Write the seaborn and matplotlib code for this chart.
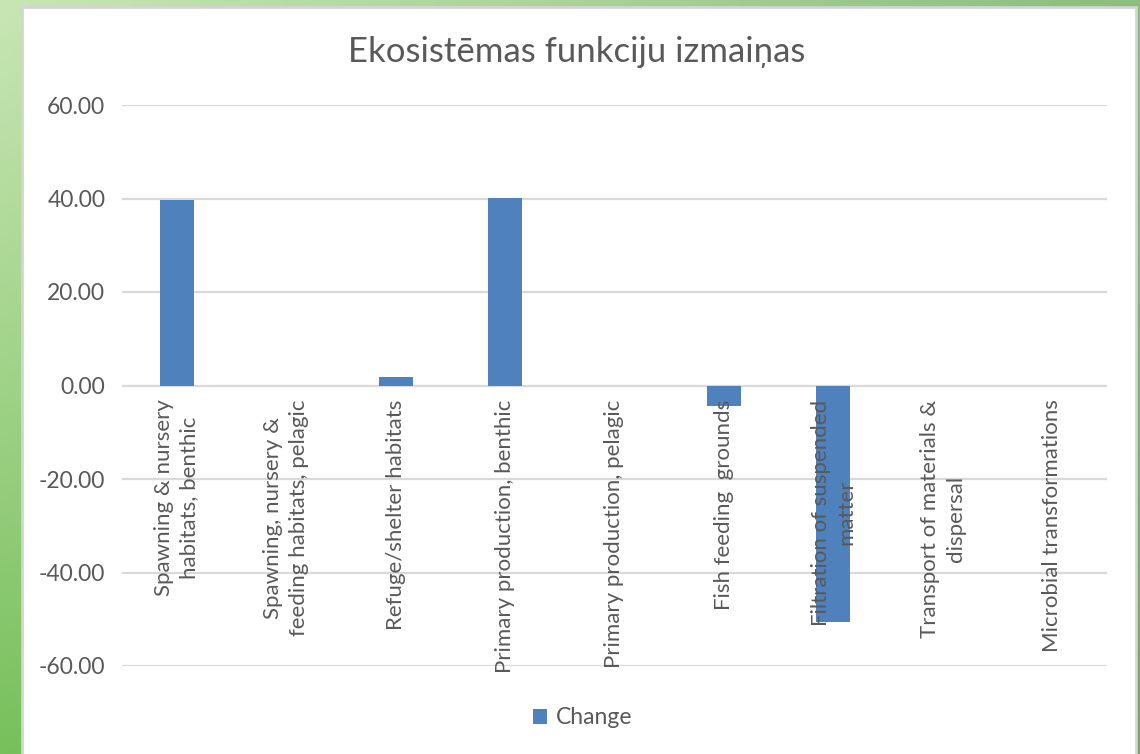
import numpy as np
import pandas as pd
import matplotlib
matplotlib.use("Agg")
import matplotlib.pyplot as plt
from matplotlib.patches import Rectangle, Patch
import seaborn as sns

# Ecosystem function change values
categories = [
    "Spawning & nursery habitats, benthic",
    "Spawning, nursery & feeding habitats, pelagic",
    "Refuge/shelter habitats",
    "Primary production, benthic",
    "Primary production, pelagic",
    "Fish feeding  grounds",
    "Filtration of suspended matter",
    "Transport of materials & dispersal",
    "Microbial transformations",
]
tick_labels = [
    "Spawning & nursery\nhabitats, benthic",
    "Spawning, nursery &\nfeeding habitats, pelagic",
    "Refuge/shelter habitats",
    "Primary production, benthic",
    "Primary production, pelagic",
    "Fish feeding  grounds",
    "Filtration of suspended\nmatter",
    "Transport of materials &\ndispersal",
    "Microbial transformations",
]
change = [39.6, 0.0, 1.8, 40.2, 0.0, -4.3, -50.6, 0.0, 0.0]
series_name = "Change"
y_ticks = [-60, -40, -20, 0, 20, 40, 60]
title = "Ekosistēmas funkciju izmaiņas"

df = pd.DataFrame({"Function": categories, "Value": change, "Series": series_name})

sns.set_theme(style="white")
plt.rcParams["font.family"] = ["Lato", "DejaVu Sans"]
text_color = "#595959"
grid_color = "#d9d9d9"
bar_color = "#4f81bd"

W, H = 1140, 754
fig = plt.figure(figsize=(W / 100, H / 100), dpi=100)

# Green gradient backdrop
bg = fig.add_axes([0, 0, 1, 1], zorder=-10)
yy, xx = np.mgrid[0:1:200j, 0:1:300j]
c_tl = np.array([200, 230, 180]) / 255
c_tr = np.array([140, 190, 125]) / 255
c_bl = np.array([120, 192, 92]) / 255
c_br = np.array([110, 170, 90]) / 255
img = ((1 - xx)[..., None] * (1 - yy)[..., None] * c_tl
       + xx[..., None] * (1 - yy)[..., None] * c_tr
       + (1 - xx)[..., None] * yy[..., None] * c_bl
       + xx[..., None] * yy[..., None] * c_br)
bg.imshow(img, aspect="auto", extent=[0, 1, 1, 0])
bg.set_xlim(0, 1)
bg.set_ylim(1, 0)
bg.axis("off")

# White chart panel
px0, py0, px1 = 22, 7, 1136
bg.add_patch(Rectangle((px0 / W, py0 / H), (px1 - px0) / W, 1.2,
                       facecolor="white", edgecolor="#d4d4d4", linewidth=2))

ax = fig.add_axes([122 / W, 1 - 666 / H, (1107 - 122) / W, (666 - 105) / H])
ax.set_facecolor("none")

sns.barplot(data=df, x="Function", y="Value", hue="Series",
            palette=[bar_color], width=0.31, dodge=False, ax=ax,
            saturation=1, legend=False, linewidth=0, zorder=2)

# Category labels sit on the zero line
ax.spines["bottom"].set_position(("data", 0))
for s in ax.spines.values():
    s.set_visible(False)

ax.set_ylim(-60, 60)
ax.set_yticks(y_ticks)
ax.set_yticklabels([f"{v:.2f}" for v in y_ticks], color=text_color, fontsize=16.5)
ax.set_xticks(range(len(categories)))
ax.set_xticklabels(tick_labels, rotation=90, ha="center", va="top",
                   multialignment="center", color=text_color, fontsize=16)
for lbl in ax.get_xticklabels():
    lbl.set_linespacing(1.35)
ax.tick_params(axis="x", length=0, pad=10)
ax.tick_params(axis="y", length=0, pad=12)
ax.set_xlabel("")
ax.set_ylabel("")

# Gridlines under the bars; tick labels (axis artists) drawn above them
ax.grid(False)
for v in y_ticks:
    ax.axhline(v, color=grid_color, linewidth=1.6, zorder=0.5)
ax.set_axisbelow(False)

fig.text(577 / W, 1 - 52 / H, title, ha="center", va="center",
         fontsize=25, color=text_color)

handle = Patch(facecolor=bar_color, edgecolor="none", label=series_name)
fig.legend(handles=[handle], loc="center", bbox_to_anchor=(583 / W, 1 - 718 / H),
           frameon=False, fontsize=16.5, handlelength=0.6, handleheight=0.6,
           handletextpad=0.4, labelcolor=text_color)

fig.savefig("out.png", dpi=100)
